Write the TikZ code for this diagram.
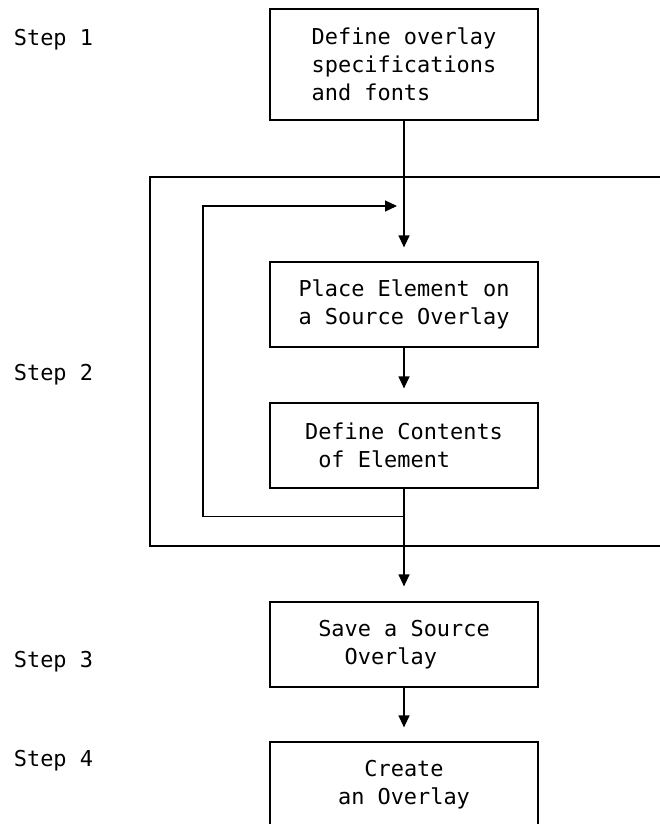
\documentclass[tikz,border=0pt]{standalone}
\usepackage{fontspec}
\setmonofont{DejaVu Sans Mono}
\usepackage{tikz}
\usetikzlibrary{arrows.meta}

\begin{document}
\begin{tikzpicture}[x=1pt,y=-1pt,line width=1.2pt,
  font=\ttfamily\fontsize{21.9}{28}\selectfont,
  stepbox/.style={draw,minimum width=268pt,minimum height=85pt,inner sep=0pt,align=left},
  arr/.style={-{Triangle[length=12pt,width=11pt]},shorten >=14pt}]
  \useasboundingbox (0,0) rectangle (660,824);
  % step labels down the left side
  \node[anchor=base west] (s1) at (10,46) {Step 1};
  \node[anchor=base west] (s2) at (10,380) {Step 2};
  \node[anchor=base west] (s3) at (10,667) {Step 3};
  \node[anchor=base west] (s4) at (10,766) {Step 4};
  % process boxes
  \node[stepbox,minimum height=111pt] (define) at (404,64.5) {Define overlay\\specifications\\and fonts};
  \node[stepbox] (place) at (404,304.5) {Place Element on\\a Source Overlay};
  \node[stepbox] (contents) at (404,445.5) {Define Contents\\\phantom{x}of Element};
  \node[stepbox] (save) at (404,644.5) {Save a Source\\\phantom{xx}Overlay};
  \node[stepbox] (create) at (404,784.5) {\phantom{xx}Create\\an Overlay};
  % frame round step 2, runs off the right edge
  \draw (150,177) rectangle (680,546);
  % main flow
  \draw[arr] (define) -- (place);
  \draw[arr] (place) -- (contents);
  \draw[arr,shorten >=15pt] (contents) -- (save);
  \draw[arr] (save) -- (create);
  % repeat for each element
  \coordinate (fork) at ([yshift=-28pt]contents.south);
  \coordinate (merge) at (404,206);
  \draw[arr,shorten >=7pt] (fork) -- ++(-201,0) |- (merge);
\end{tikzpicture}
\end{document}
